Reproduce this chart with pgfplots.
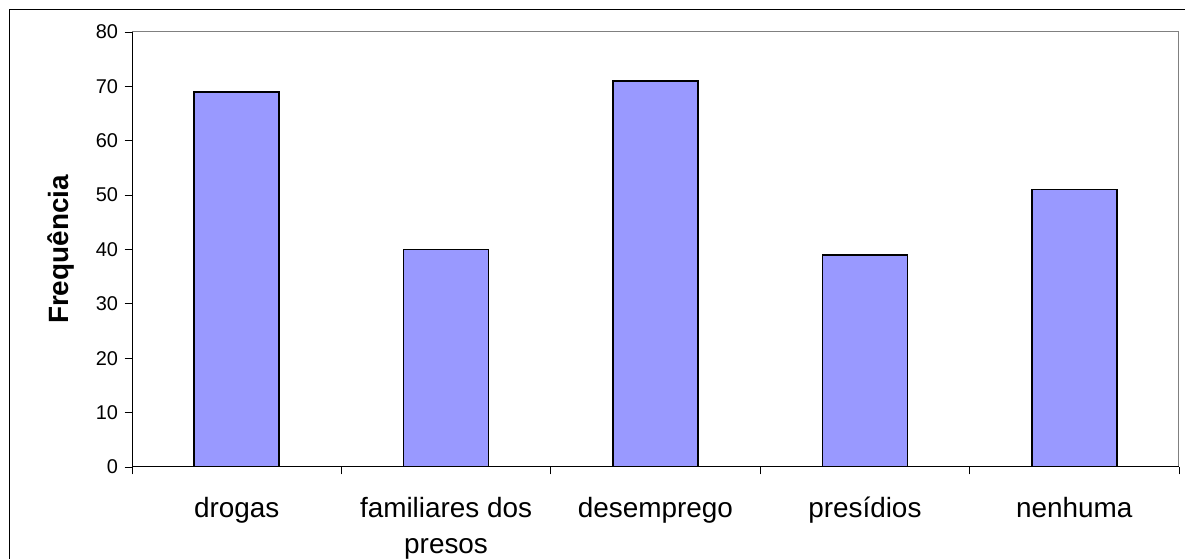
\documentclass[border=0pt]{standalone}
\usepackage{pgfplots}
\pgfplotsset{compat=1.18}
\usepackage{fontspec}
\setmainfont{Liberation Sans}
\definecolor{barblue}{RGB}{153,153,255}
\definecolor{frameGray}{RGB}{128,128,128}
\begin{document}
\begin{tikzpicture}[x=1bp,y=1bp]
\begin{axis}[
  at={(132bp,92bp)}, anchor=south west,
  scale only axis, width=1047bp, height=435bp,
  xmin=-0.5, xmax=4.5, ymin=0, ymax=80,
  enlargelimits=false,
  axis line style={draw=frameGray, line width=1bp},
  xtick={-0.5,0.5,...,4.5}, xticklabels={},
  extra x ticks={0,1,2,3,4},
  extra x tick labels={drogas,{familiares dos\\presos},desemprego,presídios,nenhuma},
  extra x tick style={major tick length=0pt,
    xticklabel style={align=center, anchor=north, inner sep=0pt,
      font=\fontsize{28}{36}\selectfont, yshift=-30bp}},
  ytick={0,10,...,80},
  xtick pos=lower, ytick pos=left,
  tick align=outside,
  major tick length=7.5bp,
  tick style={black, line width=0.8bp},
  /pgf/number format/assume math mode=true,
  yticklabel style={font=\fontsize{20}{24}\selectfont, xshift=-3bp},
  ylabel={\textbf{Frequência}},
  every axis y label/.style={at={(rel axis cs:0,0.5)}, xshift=-71bp, rotate=90,
    anchor=center, font=\fontsize{28}{34}\selectfont},
  ybar, bar width=85bp,
]
\addplot[fill=barblue, draw=black, line width=1.5bp] coordinates {
  (0,69) (1,40) (2,71) (3,39) (4,51)
};
% dark left and bottom axis lines over the gray plot-area border
\draw[black, line width=1bp] (rel axis cs:0,1) -- (rel axis cs:0,0) -- (rel axis cs:1,0);
\end{axis}
% chart-area frame
\draw[black, line width=1bp] (9.5,0) -- (9.5,549.5) -- (1185,549.5);
\pgfresetboundingbox
\useasboundingbox (0,0) rectangle (1185,559);
\end{tikzpicture}
\end{document}
